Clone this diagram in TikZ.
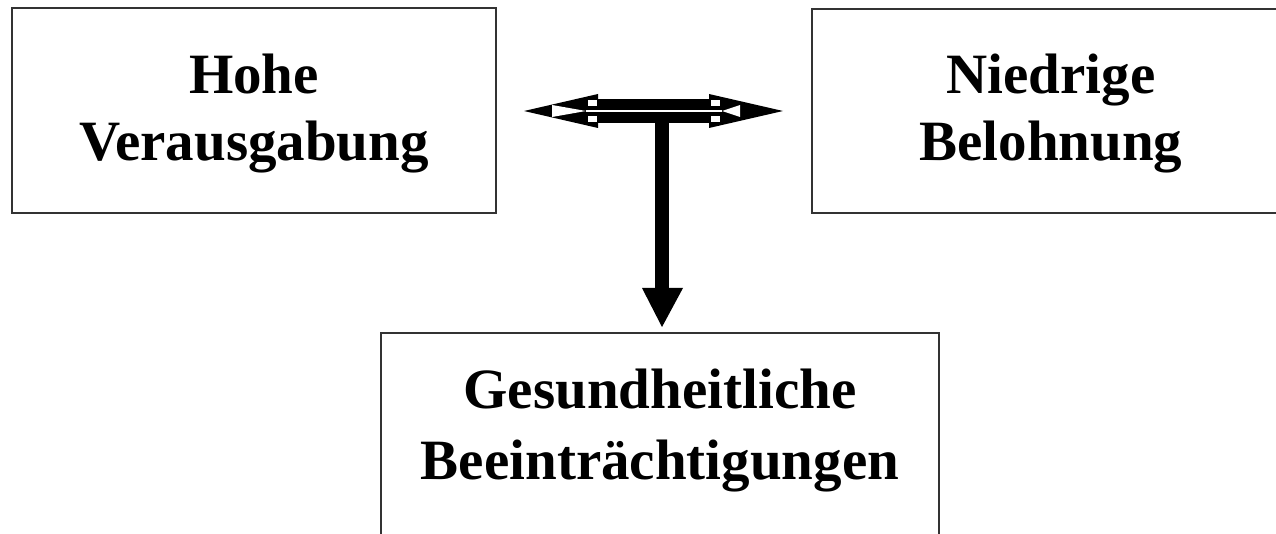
\documentclass[tikz,border=0pt]{standalone}
\usepackage{fontspec}
\setmainfont{Liberation Serif}
\begin{document}
\begin{tikzpicture}[x=1pt,y=-1pt,
  box/.style={draw=black!80, line width=1.2pt, inner sep=0pt},
  lbl/.style={font=\bfseries\fontsize{57}{60}\selectfont, inner sep=0pt, anchor=base},
  arrowfill/.style={fill=black, draw=none}]
\useasboundingbox (0,0) rectangle (1276,534);
\clip (0,0) rectangle (1276,534);
% boxes
\node[box, minimum width=484pt, minimum height=205pt] (hv) at (254,110.5) {};
\node[box, minimum width=478pt, minimum height=204pt] (nb) at (1051,111) {};
\node[box, minimum width=558pt, minimum height=230pt] (gb) at (660,448) {};
% labels
\node[lbl] (hv1) at (254,94) {Hohe};
\node[lbl] (hv2) at (254,161) {Verausgabung};
\node[lbl] (nb1) at (1051,94) {Niedrige};
\node[lbl] (nb2) at (1051,161) {Belohnung};
\node[lbl] (gb1) at (660,408) {Gesundheitliche};
\node[lbl] (gb2) at (660,479) {Beeinträchtigungen};
% double arrow
\coordinate (lt) at (524,111);
\coordinate (rt) at (783,111);
\coordinate (jn) at (662,123);
\coordinate (dt) at (662,327);
\fill[arrowfill] (lt) -- (598,94) -- (598,128) -- cycle;
\fill[arrowfill] (rt) -- (709,94) -- (709,128) -- cycle;
\fill[arrowfill] (587,99) rectangle (721,123);
\fill[white] (552,105) -- (552,117) -- (586,111) -- cycle;
\fill[white] (740,105) -- (740,117) -- (722,111) -- cycle;
\draw[white, line width=2pt] (586,111) -- (722,111);
\foreach \x in {588,711}{
  \draw[white, fill=white, line width=0.6pt] (\x,100.5) rectangle ++(8,5);
  \draw[white, fill=white, line width=0.6pt] (\x,116.5) rectangle ++(8,5);
}
% down arrow
\fill[arrowfill] (655,122) rectangle (669,289);
\fill[arrowfill] (642,288) -- (683,288) -- (dt) -- cycle;
\end{tikzpicture}
\end{document}
